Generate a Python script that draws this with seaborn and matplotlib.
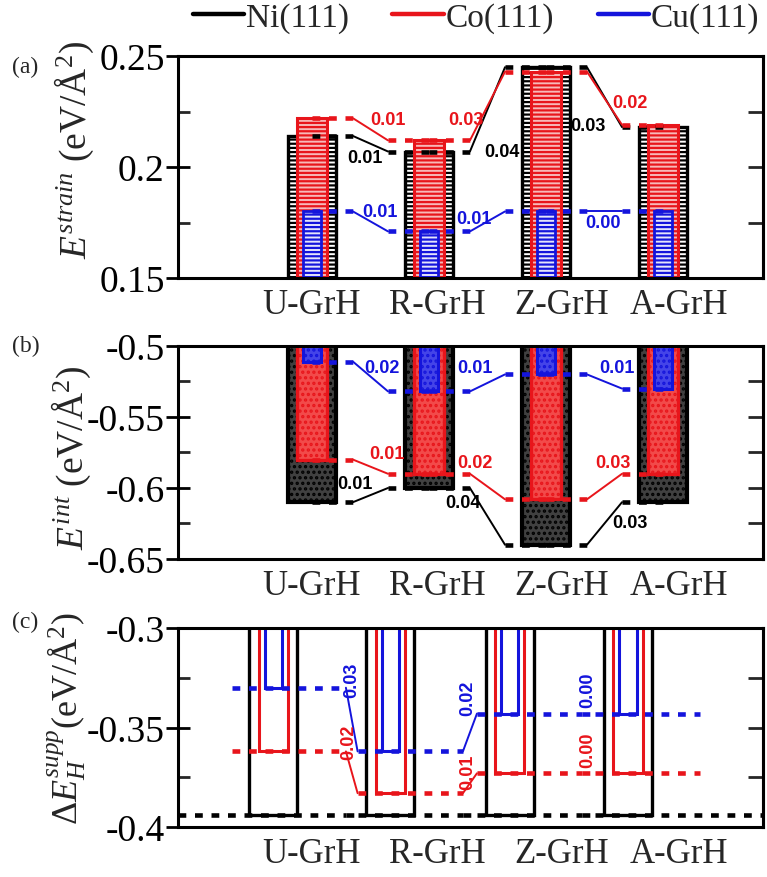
import numpy as np
import pandas as pd
import matplotlib
matplotlib.use('Agg')
import matplotlib.pyplot as plt
import seaborn as sns
from matplotlib.lines import Line2D
from matplotlib.ticker import MultipleLocator

# ---- data -------------------------------------------------------------
sites = ['U-GrH', 'R-GrH', 'Z-GrH', 'A-GrH']
metals = ['Ni(111)', 'Co(111)', 'Cu(111)']

# (a) strain energy, eV/A^2
strain_ni = [0.214, 0.207, 0.245, 0.218]
strain_co = [0.222, 0.212, 0.243, 0.219]
strain_cu = [0.180, 0.171, 0.180, 0.180]

# (b) interaction energy, eV/A^2
int_ni = [-0.610, -0.600, -0.640, -0.610]
int_co = [-0.580, -0.590, -0.608, -0.590]
int_cu = [-0.511, -0.532, -0.520, -0.530]

# (c) supported H adsorption energy, eV/A^2
supp_ni = [-0.394, -0.394, -0.394, -0.394]
supp_co = [-0.362, -0.383, -0.373, -0.373]
supp_cu = [-0.330, -0.362, -0.343, -0.343]

# differences written next to the connectors
strain_gap_ni = ['0.01', '0.04', '0.03']
strain_gap_co = ['0.01', '0.03', '0.02']
strain_gap_cu = ['0.01', '0.01', '0.00']
int_gap_ni = ['0.01', '0.04', '0.03']
int_gap_co = ['0.01', '0.02', '0.03']
int_gap_cu = ['0.02', '0.01', '0.01']
supp_gap_co = ['0.02', '0.01', '0.00']
supp_gap_cu = ['0.03', '0.02', '0.00']

strain_ticks = [0.15, 0.2, 0.25]
strain_ticklabels = ['0.15', '0.2', '0.25']
int_ticks = [-0.65, -0.6, -0.55, -0.5]
int_ticklabels = ['-0.65', '-0.6', '-0.55', '-0.5']
supp_ticks = [-0.4, -0.35, -0.3]
supp_ticklabels = ['-0.4', '-0.35', '-0.3']

# ---- layout -----------------------------------------------------------
bar_pos = [0, 1, 2, 3]
c_pos = [-0.33, 0.67, 1.69, 2.70]        # bars of panel (c) sit further left
label_pos = [0, 1.07, 2.13, 3.14]
XLIM = (-1.145, 3.855)

BLACK, RED, BLUE = '#000000', '#e8151b', '#1414dc'

sns.set_theme(style='ticks')
plt.rcParams['font.family'] = ['Liberation Serif', 'DejaVu Serif']
plt.rcParams['mathtext.fontset'] = 'custom'
plt.rcParams['mathtext.rm'] = 'Liberation Serif'
plt.rcParams['mathtext.it'] = 'Liberation Serif:italic'
plt.rcParams['mathtext.bf'] = 'Liberation Serif:bold'
plt.rcParams['axes.unicode_minus'] = False
plt.rcParams['hatch.linewidth'] = 1.6

DASH = (0, (1.7, 1.9))
ANN = dict(family='Liberation Sans', fontweight='bold', fontsize=13)


def draw_bars(ax, pos, vals, width, face, edge, lw, hatch=None, fill=True):
    df = pd.DataFrame({'pos': pos, 'val': vals})
    if fill:
        sns.barplot(data=df, x='pos', y='val', native_scale=True, width=width,
                    color=face, saturation=1, errorbar=None, ax=ax,
                    edgecolor=edge, linewidth=lw, hatch=hatch, zorder=2)
    else:
        sns.barplot(data=df, x='pos', y='val', native_scale=True, width=width,
                    color=edge, saturation=1, errorbar=None, ax=ax,
                    fill=False, linewidth=lw, zorder=2)


def draw_levels(ax, pos, vals, color, d=0.35):
    """Dashed level stubs between neighbouring bars, joined by thin lines."""
    for i in range(len(pos) - 1):
        x0, x1 = pos[i], pos[i + 1]
        y0, y1 = vals[i], vals[i + 1]
        ax.plot([x0, x0 + d], [y0, y0], color=color, lw=3.3, ls=DASH,
                dash_capstyle='butt', zorder=4)
        ax.plot([x0 + d, x1 - d], [y0, y1], color=color, lw=1.4, zorder=4)
        ax.plot([x1 - d, x1], [y1, y1], color=color, lw=3.3, ls=DASH,
                dash_capstyle='butt', zorder=4)


def draw_levels_c(ax, pos, vals, color, start=None, end=None, L=0.28, R=0.62):
    n = len(pos)
    lefts = [pos[i] - L for i in range(n)]
    rights = [pos[i] + R for i in range(n)]
    lefts[0] = pos[0] - 0.35 if start is None else start
    if end is not None:
        rights[-1] = end
    for i in range(n):
        ax.plot([lefts[i], rights[i]], [vals[i], vals[i]], color=color, lw=3.3,
                ls=DASH, dash_capstyle='butt', zorder=4)
        if i < n - 1:
            same = vals[i] == vals[i + 1]
            ax.plot([rights[i], lefts[i + 1]], [vals[i], vals[i + 1]], color=color,
                    lw=3.3 if same else 1.4, ls=DASH if same else '-',
                    dash_capstyle='butt', zorder=4)


def annotate(ax, texts, spots, color, rotation=0):
    for t, (x, y) in zip(texts, spots):
        ax.text(x, y, t, color=color, ha='center', va='center',
                rotation=rotation, zorder=6, **ANN)


def style_axis(ax, ticks, ticklabels, ylim, ylabel, label_xy, label_size=27):
    ax.set_xlim(*XLIM)
    ax.set_ylim(*ylim)
    ax.set_xticks(label_pos)
    ax.set_xticklabels(sites, fontsize=25)
    ax.set_xlabel('')
    ax.set_yticks(ticks)
    ax.set_yticklabels(ticklabels, fontsize=27)
    ax.yaxis.set_minor_locator(MultipleLocator(0.025))
    ax.tick_params(axis='x', length=0, pad=7)
    ax.tick_params(axis='y', which='major', direction='inout', length=17,
                   width=2, left=True, right=False, pad=1, colors='black')
    ax.tick_params(axis='y', which='minor', direction='in', length=8.5,
                   width=2, left=True, right=False)
    for sp in ax.spines.values():
        sp.set_visible(True)
        sp.set_linewidth(2.2)
        sp.set_color('black')
    sec = ax.secondary_yaxis('right')
    sec.set_yticks(ticks)
    sec.yaxis.set_minor_locator(MultipleLocator(0.025))
    sec.tick_params(axis='y', which='both', direction='in', length=11,
                    width=2, labelright=False)
    sec.spines['right'].set_linewidth(2.2)
    ax.set_ylabel(ylabel, fontsize=label_size)
    ax.yaxis.set_label_coords(*label_xy)


fig = plt.figure(figsize=(7.67, 8.78), dpi=100)
ax_a = fig.add_axes([0.2321, 0.6822, 0.7627, 0.2528])
ax_b = fig.add_axes([0.2321, 0.3622, 0.7627, 0.2426])
ax_c = fig.add_axes([0.2321, 0.0569, 0.7627, 0.2267])

# ---- (a) strain ---------------------------------------------------------
draw_bars(ax_a, bar_pos, strain_ni, 0.41, 'white', BLACK, 2.4, '----')
draw_bars(ax_a, bar_pos, strain_co, 0.25, '#f7b9b9', RED, 2.2, '----')
draw_bars(ax_a, bar_pos, strain_cu, 0.15, '#e4e4fb', BLUE, 2.0, '----')
draw_levels(ax_a, bar_pos, strain_ni, BLACK)
draw_levels(ax_a, bar_pos, strain_co, RED)
draw_levels(ax_a, bar_pos, strain_cu, BLUE)
annotate(ax_a, strain_gap_ni, [(0.45, 0.2045), (1.62, 0.2072), (2.36, 0.2189)], BLACK)
annotate(ax_a, strain_gap_co, [(0.65, 0.2216), (1.32, 0.2216), (2.72, 0.2293)], RED)
annotate(ax_a, strain_gap_cu, [(0.58, 0.1800), (1.38, 0.1766), (2.49, 0.1752)], BLUE)
style_axis(ax_a, strain_ticks, strain_ticklabels, (0.15, 0.25),
           r'$E^{strain}$ (eV/Å$^2$)', (-0.14, 0.58))

# ---- (b) interaction ----------------------------------------------------
draw_bars(ax_b, bar_pos, int_ni, 0.41, '#404040', BLACK, 3.0, '...')
draw_bars(ax_b, bar_pos, int_co, 0.25, '#f24a4a', RED, 2.4, '...')
draw_bars(ax_b, bar_pos, int_cu, 0.15, '#4444e8', BLUE, 2.2, '...')
draw_levels(ax_b, bar_pos, int_ni, BLACK)
draw_levels(ax_b, bar_pos, int_co, RED)
draw_levels(ax_b, bar_pos, int_cu, BLUE)
annotate(ax_b, int_gap_ni, [(0.37, -0.5965), (1.29, -0.610), (2.72, -0.624)], BLACK)
annotate(ax_b, int_gap_co, [(0.64, -0.576), (1.39, -0.5817), (2.57, -0.5817)], RED)
annotate(ax_b, int_gap_cu, [(0.60, -0.5155), (1.39, -0.5155), (2.61, -0.5148)], BLUE)
style_axis(ax_b, int_ticks, int_ticklabels, (-0.65, -0.5),
           r'$E^{int}$ (eV/Å$^2$)', (-0.145, 0.48))

# ---- (c) supported H ----------------------------------------------------
draw_bars(ax_c, c_pos, supp_ni, 0.41, None, BLACK, 2.4, fill=False)
draw_bars(ax_c, c_pos, supp_co, 0.25, None, RED, 2.2, fill=False)
draw_bars(ax_c, c_pos, supp_cu, 0.15, None, BLUE, 2.2, fill=False)
draw_levels_c(ax_c, c_pos, supp_ni, BLACK, start=XLIM[0], end=XLIM[1])
draw_levels_c(ax_c, c_pos, supp_co, RED)
draw_levels_c(ax_c, c_pos, supp_cu, BLUE)
annotate(ax_c, supp_gap_co, [(0.31, -0.3568), (1.33, -0.3719), (2.36, -0.3608)], RED, 90)
annotate(ax_c, supp_gap_cu, [(0.34, -0.3256), (1.33, -0.3347), (2.36, -0.3307)], BLUE, 90)
style_axis(ax_c, supp_ticks, supp_ticklabels, (-0.4, -0.3),
           r'$\Delta E_H^{supp}$(eV/Å$^2$)', (-0.152, 0.55), label_size=26)

# ---- panel letters and legend ------------------------------------------
for letter, ypx in [('(a)', 67), ('(b)', 346), ('(c)', 622)]:
    fig.text(12 / 767, 1 - ypx / 878, letter, fontsize=17, ha='left', va='center')

handles = [Line2D([], [], color=c, lw=3.2) for c in (BLACK, RED, BLUE)]
fig.legend(handles, metals, loc='center', ncol=3, frameon=False,
           bbox_to_anchor=(476 / 767, 1 - 19 / 878), fontsize=24,
           handlelength=1.55, handletextpad=0.05, columnspacing=1.3,
           borderpad=0, borderaxespad=0)

fig.savefig('out.png', dpi=100)
